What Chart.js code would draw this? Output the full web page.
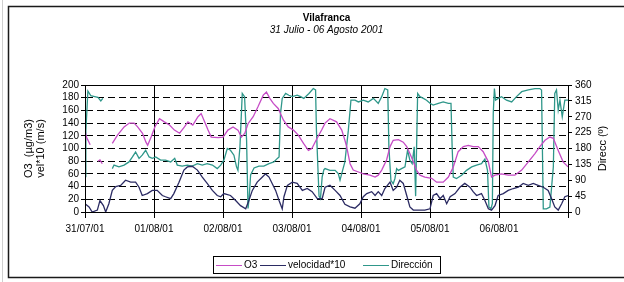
<!DOCTYPE html>
<html>
<head>
<meta charset="utf-8">
<script src="https://cdn.jsdelivr.net/npm/chart.js@4.4.1/dist/chart.umd.min.js"></script>
<style>
  html, body { margin: 0; padding: 0; background: #fff; }
  #wrap { width: 624px; height: 282px; }
</style>
</head>
<body>
<div id="wrap"><canvas id="chart" width="624" height="282"></canvas></div>
<script>
// textos
const chartTitle = 'Vilafranca';
const chartSubtitle = '31 Julio - 06 Agosto 2001';
const leftTitle = ['O3  (µg/m3)', 'vel*10 (m/s)'];
const rightTitle = 'Direcc (º)';
const seriesNames = ['O3', 'velocidad*10', 'Dirección'];
const xTickLabels = ['31/07/01', '01/08/01', '02/08/01', '03/08/01', '04/08/01', '05/08/01', '06/08/01'];

// horas desde 31/07/01 00h (null = sin dato)
const o3Hours = [0, 0.5, 1.8, 2.5, 4.5, 5.2, 6.0, 7.0, 9.5, 11.3, 13.6, 15.4, 17.1, 18.3, 20.0, 21.2, 21.8, 23.0,
  24.3, 25.9, 27.6, 29.4, 31.1, 32.9, 34.6, 35.8, 37.5, 39.3, 40.4, 41.6, 42.8, 43.9, 46.3, 48.0, 49.7, 51.5,
  53.2, 54.4, 55.6, 56.7, 58.5, 60.2, 62.0, 63.1, 64.3, 65.5, 67.2, 69.0, 70.7, 72.5, 74.2, 76.0, 77.7, 78.9,
  80.6, 82.4, 83.5, 85.2, 87.5, 89.3, 90.4, 91.0, 92.2, 93.3, 95.1, 96.8, 99.1, 100.9, 102.0, 103.2, 104.9,
  106.1, 107.2, 109.0, 110.7, 111.9, 113.0, 114.2, 115.3, 116.5, 118.2, 120.6, 122.3, 124.6, 126.4, 128.1,
  129.8, 131.6, 133.3, 135.0, 136.8, 138.5, 140.3, 141.4, 142.6, 144.9, 147.2, 149.5, 151.9, 154.2, 156.5,
  158.2, 160.0, 161.7, 162.9, 164.6, 166.3, 168.0];
const o3Values = [128, 118, 106, null, 80, 82, 76, null, 108, 121, 134, 140, 140, 134, 124, 110, 105, 118,
  134, 147, 142, 137, 129, 124, 134, 142, 137, 150, 155, 142, 129, 118, 117, 118, 129, 134,
  129, 118, 124, 139, 150, 166, 184, 189, 179, 171, 163, 145, 134, 129, 121, 108, 97, 100,
  115, 130, 140, 147, 142, 129, 113, 103, 76, 66, 63, 60, 58, 55, 58, 66, 82,
  103, 113, 114, 110, 103, 92, 79, 66, 58, 55, 53, 47, 47, 55, 71,
  95, 103, 105, 103, 103, 95, 79, 55, 58, 60, 58, 58, 66, 79, 92,
  103, 113, 118, 116, 97, 79, 71];

const velHours = [0, 1.4, 2.5, 4.3, 5.2, 6.4, 7.2, 8.3, 9.5, 10.7, 12.4, 14.1, 15.9, 17.6, 18.8, 19.9, 21.7, 23.4,
  25.1, 26.9, 28.0, 29.8, 30.9, 32.7, 34.4, 35.6, 37.3, 39.1, 40.8, 42.5, 44.3, 46.0, 47.2, 48.3, 50.6, 52.4,
  54.1, 55.9, 57.0, 58.2, 59.9, 61.7, 62.8, 64.0, 65.1, 66.3, 67.5, 68.6, 69.2, 70.4, 72.1, 73.8, 75.6, 77.3,
  79.0, 80.8, 82.5, 83.5, 85.2, 87.0, 88.7, 90.4, 92.2, 93.9, 95.6, 96.8, 98.0, 99.7, 100.9, 102.0, 103.2,
  104.3, 106.1, 107.2, 108.4, 109.5, 110.7, 111.9, 113.0, 114.2, 115.9, 118.2, 120.0, 121.1, 122.3, 123.5,
  124.6, 125.8, 127.0, 128.7, 130.4, 132.1, 133.9, 135.0, 136.2, 137.9, 139.1, 140.3, 141.4, 142.6, 143.7,
  145.5, 147.2, 149.0, 150.7, 152.4, 154.2, 155.9, 157.6, 159.4, 161.1, 162.3, 163.4, 164.6, 165.8, 166.9, 168.0];
const velValues = [13, 8, 0, 3, 18, 10, 0, 13, 34, 40, 42, 50, 47, 47, 39, 26, 29, 34,
  34, 26, 24, 21, 29, 47, 66, 71, 72, 66, 55, 45, 34, 26, 24, 29, 26, 18,
  10, 5, 18, 34, 47, 55, 60, 55, 45, 34, 18, 5, 24, 42, 47, 45, 34, 37,
  32, 21, 21, 39, 42, 34, 26, 12, 8, 6, 13, 24, 29, 32, 26, 32, 26,
  37, 47, 34, 39, 50, 45, 26, 8, 3, 3, 3, 5, 26, 29, 21,
  26, 13, 24, 29, 39, 45, 39, 32, 26, 29, 18, 5, 3, 10, 26,
  29, 34, 37, 39, 45, 42, 45, 42, 39, 34, 21, 8, 3, 13, 24, 26];

const dirHours = [0, 0.3, 1.0, 2.0, 3.0, 4.5, 5.5, 6.2, 6.5, 9.5, 10.1, 11.8, 13.6, 15.3, 16.5, 17.6, 18.8, 19.9,
  21.1, 22.3, 23.4, 24.6, 26.3, 28.0, 29.8, 31.2, 32.1, 33.8, 35.6, 37.3, 39.1, 40.8, 42.5, 44.3, 46.0, 47.2,
  48.3, 49.5, 50.6, 51.8, 52.7, 53.2, 53.9, 54.7, 55.5, 56.2, 56.7, 57.1, 57.6, 58.8, 60.5, 62.2, 64.0, 65.7,
  66.9, 67.5, 68.0, 68.6, 69.8, 70.9, 72.1, 73.8, 75.0, 76.1, 77.9, 79.4, 80.2, 80.5, 81.4, 81.9, 82.5, 83.1,
  83.5, 85.2, 87.0, 88.1, 88.7, 89.3, 90.4, 91.6, 92.5, 93.9, 95.1, 96.8, 98.5, 100.3, 102.0, 103.2, 104.3,
  105.3, 105.7, 106.4, 107.2, 107.8, 108.4, 109.0, 110.1, 111.3, 112.2, 113.0, 113.8, 114.5, 115.0, 115.7,
  116.5, 117.7, 118.8, 120.0, 121.1, 122.9, 124.6, 126.4, 127.3, 127.7, 128.1, 129.2, 131.0, 132.7, 134.5,
  136.2, 137.9, 139.1, 140.0, 140.5, 141.2, 141.7, 142.0, 142.4, 142.8, 143.7, 144.9, 146.6, 148.4, 150.1,
  151.9, 154.2, 156.5, 158.2, 158.8, 159.4, 160.5, 161.7, 162.9, 163.4, 164.0, 164.6, 165.2, 166.0, 166.9, 168.0];
const dirValues = [100, 230, 343, 330, 328, 325, 315, 322, null, 123, 133, 128, 133, 142, 156, 170, 152, 161,
  175, 156, 152, 156, 147, 147, 142, 152, 133, 130, 133, 130, 137, 133, 137, 133, 123, 133,
  147, 180, 175, 161, 128, 118, 185, 336, 327, 204, 10, 40, 105, 125, 130, 130, 137, 142,
  152, 156, 279, 322, 336, 331, 327, 331, 327, 322, 336, 350, 346, 232, 45, 38, 100, 120,
  123, 118, 118, 109, 90, 109, 142, 232, 317, 317, 312, 317, 312, 322, 308, 327, 350,
  346, 185, 90, 80, 95, 123, 118, 123, 128, 175, 147, 137, 185, 45, 336,
  327, 322, 317, 308, 303, 308, 312, 308, 308, 185, 99, 95, 104, 118, 128,
  133, 137, 150, 118, 14, 9, 24, 279, 350, 317, 322, 327, 317, 312, 327,
  341, 346, 350, 350, 346, 9, 9, 14, 128, 336, 346, 289, 317, 270, 317, 317];

const colors = { o3: '#c64cc6', vel: '#2b2b63', dir: '#2f978a' };
const FONT = '"Liberation Sans", Arial, sans-serif';

const toPoints = (hs, vs) => hs.map((h, i) => ({ x: h, y: vs[i] }));

const decor = {
  id: 'decor',
  beforeDraw(chart) {
    const ctx = chart.ctx;
    ctx.save();
    ctx.fillStyle = '#fff';
    ctx.fillRect(0, 0, chart.width, chart.height);
    ctx.strokeStyle = '#cfcfcf';
    ctx.lineWidth = 1;
    ctx.beginPath(); ctx.moveTo(2.5, 0); ctx.lineTo(2.5, chart.height); ctx.stroke();
    ctx.strokeStyle = '#1a1a1a';
    ctx.lineWidth = 1.5;
    ctx.strokeRect(8.5, 6.5, chart.width + 10, 271);
    ctx.restore();
  },
  afterDatasetsDraw(chart) {
    const { ctx, chartArea: a } = chart;
    ctx.save();
    ctx.strokeStyle = '#000';
    ctx.lineWidth = 1;
    ctx.strokeRect(a.left + 0.5, a.top + 0.5, a.right - a.left, a.bottom - a.top);
    ctx.restore();
  },
  afterDraw(chart) {
    const { ctx, chartArea: a } = chart;
    const midX = (a.left + a.right) / 2;
    const midY = (a.top + a.bottom) / 2;
    ctx.save();
    ctx.fillStyle = '#000';
    ctx.textAlign = 'center';
    ctx.textBaseline = 'middle';
    ctx.font = 'bold 10px ' + FONT;
    ctx.fillText(chartTitle, midX, 18);
    ctx.font = 'italic 10px ' + FONT;
    ctx.fillText(chartSubtitle, midX, 30);

    // titulos de ejes
    ctx.font = '11px ' + FONT;
    [[29, leftTitle[0]], [41, leftTitle[1]], [603, rightTitle]].forEach(([x, t]) => {
      ctx.save();
      ctx.translate(x, midY);
      ctx.rotate(-Math.PI / 2);
      ctx.fillText(t, 0, 0);
      ctx.restore();
    });

    // leyenda
    const ly = 265;
    ctx.font = '10px ' + FONT;
    ctx.strokeStyle = '#000';
    ctx.lineWidth = 1;
    ctx.strokeRect(213.5, 256.5, 227, 17);
    ctx.textAlign = 'left';
    const items = [[216, colors.o3], [260, colors.vel], [363, colors.dir]];
    items.forEach(([x, c], i) => {
      ctx.strokeStyle = c;
      ctx.beginPath(); ctx.moveTo(x, ly + 0.5); ctx.lineTo(x + 26, ly + 0.5); ctx.stroke();
      ctx.fillText(seriesNames[i], x + 28, ly);
    });
    ctx.restore();
  }
};

new Chart(document.getElementById('chart'), {
  type: 'line',
  data: {
    datasets: [
      { label: seriesNames[0], data: toPoints(o3Hours, o3Values), borderColor: colors.o3, yAxisID: 'y' },
      { label: seriesNames[1], data: toPoints(velHours, velValues), borderColor: colors.vel, yAxisID: 'y' },
      { label: seriesNames[2], data: toPoints(dirHours, dirValues), borderColor: colors.dir, yAxisID: 'y2' }
    ]
  },
  options: {
    responsive: false,
    devicePixelRatio: 1,
    animation: false,
    spanGaps: false,
    layout: { padding: { top: 85, left: 0, right: 0, bottom: 0 } },
    elements: {
      line: { borderWidth: 1.3, tension: 0 },
      point: { radius: 0 }
    },
    plugins: { legend: { display: false }, tooltip: { enabled: false }, title: { display: false } },
    scales: {
      x: {
        type: 'linear', min: 0, max: 168,
        afterFit: s => { s.height = 70; },
        ticks: {
          stepSize: 24, padding: 5, color: '#000', maxRotation: 0, autoSkip: false,
          font: { family: FONT, size: 10 },
          callback: v => xTickLabels[v / 24] || ''
        },
        grid: { color: '#000', lineWidth: 1, tickLength: 6, tickColor: '#000' },
        border: { color: '#000', width: 1 }
      },
      y: {
        position: 'left', min: 0, max: 200,
        afterFit: s => { s.width = 85; },
        ticks: { stepSize: 20, padding: 2, color: '#000', autoSkip: false, font: { family: FONT, size: 10 } },
        grid: { color: '#000', lineWidth: 1, tickLength: 4, tickColor: '#000', tickBorderDash: [] },
        border: { color: '#000', width: 1, dash: [7, 4] }
      },
      y2: {
        position: 'right', min: 0, max: 360,
        afterFit: s => { s.width = 56; },
        ticks: { stepSize: 45, padding: 3, color: '#000', autoSkip: false, font: { family: FONT, size: 10 } },
        grid: { drawOnChartArea: false, tickLength: 4, tickColor: '#000' },
        border: { color: '#000', width: 1 }
      }
    }
  },
  plugins: [decor]
});
</script>
</body>
</html>
